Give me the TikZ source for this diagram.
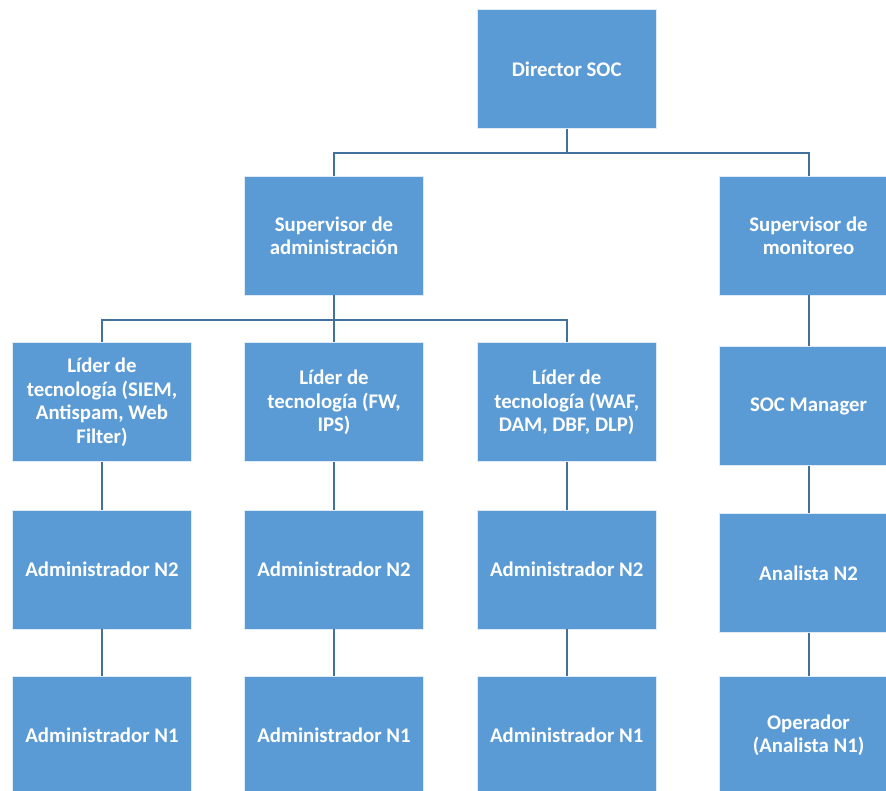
\documentclass[tikz,border=0pt]{standalone}
\usepackage{fontspec}
\setmainfont{Carlito}
\definecolor{boxblue}{HTML}{5B9BD5}
\definecolor{linkblue}{HTML}{41719C}
\begin{document}
\begin{tikzpicture}[x=1pt,y=-1pt,
  orgbox/.style={rectangle, fill=boxblue, draw=white!80!boxblue, line width=0.8pt,
    minimum width=179pt, minimum height=119pt, inner sep=4pt,
    text=white, align=center, font=\fontsize{20.8}{23.4}\selectfont\bfseries},
  link/.style={draw=linkblue, line width=2pt}]
\useasboundingbox (0,0) rectangle (886,790);
\clip (0,0) rectangle (886,790);
% top level
\node[orgbox] (dir) at (566.7,69.3) {Director SOC};
% supervisors
\node[orgbox] (sa) at (334,235.5) {Supervisor de\\administración};
\node[orgbox] (sm) at (808.5,235.5) {Supervisor de\\monitoreo};
% technology leads and monitoring chain
\node[orgbox] (l1) at (102,402.3) {Líder de\\tecnología (SIEM,\\Antispam, Web\\Filter)};
\node[orgbox] (l2) at (334,402.3) {Líder de\\tecnología (FW,\\IPS)};
\node[orgbox] (l3) at (566.7,402.3) {Líder de\\tecnología (WAF,\\DAM, DBF, DLP)};
\node[orgbox] (mgr) at (808.5,406.2) {SOC Manager};
% level 2
\node[orgbox] (a21) at (102,569.5) {Administrador N2};
\node[orgbox] (a22) at (334,569.5) {Administrador N2};
\node[orgbox] (a23) at (566.7,569.5) {Administrador N2};
\node[orgbox] (an2) at (808.5,573) {Analista N2};
% level 1
\node[orgbox] (a11) at (102,735.5) {Administrador N1};
\node[orgbox] (a12) at (334,735.5) {Administrador N1};
\node[orgbox] (a13) at (566.7,735.5) {Administrador N1};
\node[orgbox] (op) at (808.5,735.5) {Operador\\(Analista N1)};
% connectors
\coordinate (busA) at (566.7,153);
\coordinate (busB) at (334,320);
\draw[link] (dir.south) -- (busA);
\draw[link] (busA) -| (sa.north);
\draw[link] (busA) -| (sm.north);
\draw[link] (sa.south) -- (busB);
\draw[link] (busB) -| (l1.north);
\draw[link] (busB) -- (l2.north);
\draw[link] (busB) -| (l3.north);
\draw[link] (sm.south) -- (mgr.north);
\draw[link] (l1.south) -- (a21.north);
\draw[link] (l2.south) -- (a22.north);
\draw[link] (l3.south) -- (a23.north);
\draw[link] (mgr.south) -- (an2.north);
\draw[link] (a21.south) -- (a11.north);
\draw[link] (a22.south) -- (a12.north);
\draw[link] (a23.south) -- (a13.north);
\draw[link] (an2.south) -- (op.north);
\end{tikzpicture}
\end{document}
